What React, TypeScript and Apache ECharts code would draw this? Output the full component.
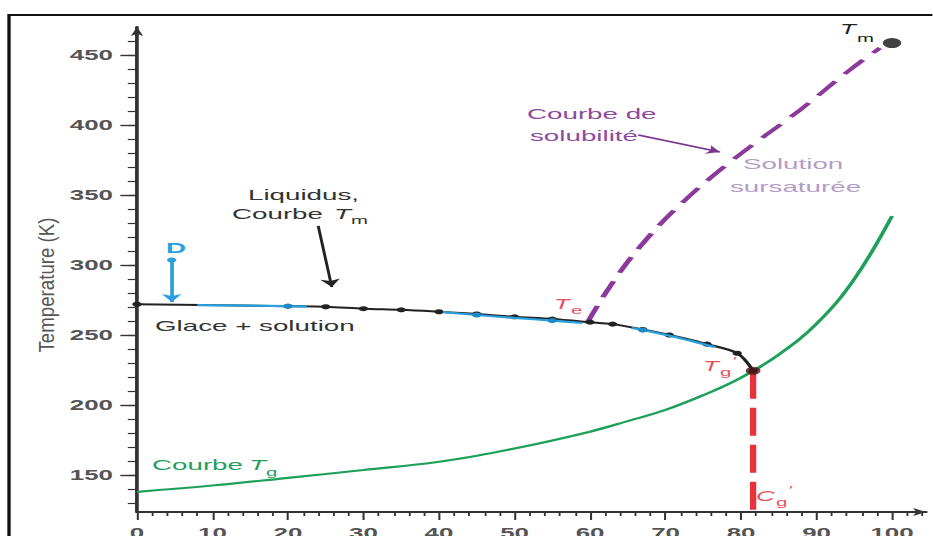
import React, { useEffect, useRef } from "react";
import * as echarts from "echarts";

// Horizontal stretch of the whole figure (the artwork is drawn narrow, then widened)
const S = 1.85;
const W = 933;
const H = 536;
const CW = W / S;
const u = (px: number) => px / S;
const FONT = '"Liberation Sans", Arial, sans-serif';

// Axes
const yMin = 123.6;
const yMax = 470;
const xMin = 0;
const xMax = 104.5;
const yMajorTicks = [150, 200, 250, 300, 350, 400, 450];
const yMinorTicks = [130, 140, 150, 160, 170, 180, 190, 200, 210, 220, 230, 240, 250, 260, 270, 280, 290, 300, 310, 320, 330, 340, 350, 360, 370, 380, 390, 400, 410, 420, 430, 440, 450, 460];
const xMajorTicks = [0, 10, 20, 30, 40, 50, 60, 70, 80, 90, 100];
const xMinorTicks = [2, 4, 6, 8, 12, 14, 16, 18, 22, 24, 26, 28, 32, 34, 36, 38, 42, 44, 46, 48, 52, 54, 56, 58, 62, 64, 66, 68, 72, 74, 76, 78, 82, 84, 86, 88, 92, 94, 96, 98, 102, 104];

// Liquidus (Courbe Tm) – black, with markers
const liquidusX = [0, 20, 25, 30, 35, 40, 45, 50, 55, 60, 63, 67, 70.5, 75.5, 79.5, 81.6];
const liquidusT = [272, 270.6, 270.2, 268.8, 268, 266.6, 265, 263, 261.4, 259.2, 257.8, 254, 250, 243.5, 237, 224.5];

// Measured liquidus points – blue segments (null = gap)
const blueX = [8, 15, 20, 22.5, 31, 40.5, 45, 50, 55, 59, 62, 65.5, 67, 71, 76.5];
const blueT = [271.3, 271, 270.6, 270.3, null, 266.4, 264.3, 262.2, 260.3, 258.6, null, 255, 253.6, 249, 241.5];
const blueMarked = [20, 45, 55, 67];

// Glass transition curve Tg – green
const tgX = [0, 10, 20, 30, 40, 50, 60, 65, 70, 75, 80, 85, 90, 95, 100];
const tgT = [138, 142.5, 148, 153.6, 159.5, 169, 181, 188.5, 196.5, 207, 219.5, 236, 258, 290, 335];

// Solubility curve – purple dashed
const solX = [59.7, 62.6, 66.6, 71.9, 78.9, 87.8, 94.4, 98.4];
const solT = [259.3, 284.3, 312.9, 342.9, 375, 410.7, 439.3, 455];

// Special points
const tmPoint = [100, 458.5];
const tgPrimePoint = [81.6, 224.5];
const cgPrime = 81.6;

// Point D: start temperature and arrow down to the liquidus
const dX = 4.6;
const dFrom = 303.6;
const dTo = 273.5;

// Annotation arrows [x1, y1, x2, y2]
const liquidusArrow = [24, 328, 25.8, 284.3];
const solubilityArrow = [66.4, 392.9, 77.2, 380.7];

type Lbl = { x: number; y: number; text: string; size?: number; color: string; italic?: boolean; bold?: boolean };

const RED = "#e8505a";
const labels: Lbl[] = [
  { x: 248, y: 195, text: "Liquidus,", color: "#333" },
  { x: 232, y: 214, text: "Courbe", color: "#333" },
  { x: 334, y: 214, text: "T", color: "#333", italic: true },
  { x: 351, y: 220, text: "m", color: "#333", size: 11 },
  { x: 166, y: 248, text: "D", color: "#29a0dd", bold: true },
  { x: 155, y: 326, text: "Glace + solution", color: "#333" },
  { x: 152, y: 465, text: "Courbe", color: "#1fa05a" },
  { x: 249, y: 465, text: "T", color: "#1fa05a", italic: true },
  { x: 266, y: 472, text: "g", color: "#1fa05a", size: 11 },
  { x: 527, y: 114, text: "Courbe de", color: "#8e4a9e" },
  { x: 530, y: 136, text: "solubilité", color: "#8e4a9e" },
  { x: 743, y: 164, text: "Solution", color: "#b49cc8" },
  { x: 730, y: 187, text: "sursaturée", color: "#b49cc8" },
  { x: 840, y: 29, text: "T", color: "#222", italic: true, size: 14 },
  { x: 857, y: 38, text: "m", color: "#222", size: 11 },
  { x: 554, y: 304, text: "T", color: RED, italic: true, size: 14 },
  { x: 571, y: 310, text: "e", color: RED, size: 11 },
  { x: 703, y: 366, text: "T", color: RED, italic: true, size: 14 },
  { x: 720, y: 372, text: "g", color: RED, size: 11 },
  { x: 733, y: 361, text: "\u2032", color: RED, size: 11 },
  { x: 756, y: 496, text: "C", color: RED, italic: true, size: 14 },
  { x: 776, y: 502, text: "g", color: RED, size: 11 },
  { x: 789, y: 490, text: "\u2032", color: RED, size: 11 },
];

const pairs = (xs: number[], ys: (number | null)[]) => xs.map((x, i) => [x, ys[i] === null ? "-" : ys[i]]);

function buildOption() {
  const axisColor = "#333";
  const graphics: any[] = [
    {
      type: "rect",
      silent: true,
      shape: { x: u(9), y: 15, width: 2000, height: 2000 },
      style: { fill: "none", stroke: "#111", lineWidth: 1.8 },
      z: 0,
    },
    {
      type: "text",
      silent: true,
      x: u(46),
      y: 285,
      rotation: Math.PI / 2,
      scaleY: 0.65,
      style: {
        text: "Temperature (K)",
        fontSize: 18.7,
        fontFamily: FONT,
        fill: "#555",
        align: "center",
        verticalAlign: "middle",
      },
    },
    ...labels.map((l) => ({
      type: "text",
      silent: true,
      x: u(l.x),
      y: l.y,
      z: 10,
      style: {
        text: l.text,
        fontSize: l.size ?? 15,
        fontFamily: FONT,
        fontStyle: l.italic ? "italic" : "normal",
        fontWeight: l.bold ? "bold" : "normal",
        fill: l.color,
        align: "left",
        verticalAlign: "middle",
      },
    })),
  ];

  const tickLabel = {
    show: true,
    color: "#555",
    fontSize: 14,
    fontWeight: "bold",
    fontFamily: FONT,
  };

  return {
    animation: false,
    backgroundColor: "#fff",
    grid: {
      left: u(137),
      right: CW - u(926),
      top: 27,
      bottom: H - 512,
      containLabel: false,
      outerBoundsMode: "none",
    },
    xAxis: [
      {
        type: "value",
        min: xMin,
        max: xMax,
        position: "bottom",
        axisLine: {
          show: true,
          onZero: false,
          lineStyle: { color: axisColor, width: 2 },
          symbol: ["none", "arrow"],
          symbolSize: [6, 7],
        },
        axisTick: { show: true, length: 8, customValues: xMajorTicks, lineStyle: { color: axisColor, width: 1.1 } },
        axisLabel: { ...tickLabel, customValues: xMajorTicks, margin: 14 },
        splitLine: { show: false },
      },
      {
        type: "value",
        min: xMin,
        max: xMax,
        position: "bottom",
        axisLine: { show: false, onZero: false },
        axisTick: { show: true, length: 4, customValues: xMinorTicks, lineStyle: { color: axisColor, width: 1 } },
        axisLabel: { show: false },
        splitLine: { show: false },
      },
    ],
    yAxis: [
      {
        type: "value",
        min: yMin,
        max: yMax,
        position: "left",
        axisLine: {
          show: true,
          onZero: false,
          lineStyle: { color: axisColor, width: 2 },
          symbol: ["none", "arrow"],
          symbolSize: [5, 9],
        },
        axisTick: { show: true, length: 9, customValues: yMajorTicks, lineStyle: { color: axisColor, width: 1.4 } },
        axisLabel: { ...tickLabel, customValues: yMajorTicks, margin: 13 },
        splitLine: { show: false },
      },
      {
        type: "value",
        min: yMin,
        max: yMax,
        position: "left",
        offset: 0,
        axisLine: { show: false, onZero: false },
        axisTick: { show: true, length: 5, customValues: yMinorTicks, lineStyle: { color: axisColor, width: 1.2 } },
        axisLabel: { show: false },
        splitLine: { show: false },
      },
    ],
    graphic: graphics,
    series: [
      {
        name: "Tg",
        type: "line",
        smooth: 0.4,
        showSymbol: false,
        data: pairs(tgX, tgT),
        lineStyle: { color: "#1fa05a", width: 2.2 },
        z: 2,
      },
      {
        name: "Solubilité",
        type: "line",
        smooth: 0.4,
        showSymbol: false,
        data: pairs(solX, solT),
        lineStyle: { color: "#8b3a9c", width: 3, type: [17, 9] },
        z: 2,
      },
      {
        name: "Cg'",
        type: "line",
        showSymbol: false,
        data: [
          [cgPrime, tgPrimePoint[1]],
          [cgPrime, yMin],
        ],
        lineStyle: { color: "#e8333c", width: 3.4, type: [28, 9] },
        z: 3,
      },
      {
        name: "Liquidus",
        type: "line",
        smooth: 0.3,
        symbol: "circle",
        symbolSize: 5,
        showAllSymbol: true,
        data: pairs(liquidusX, liquidusT),
        lineStyle: { color: "#222", width: 2 },
        itemStyle: { color: "#222" },
        z: 4,
      },
      {
        name: "Mesures",
        type: "line",
        smooth: 0.3,
        connectNulls: false,
        data: blueX.map((x, i) => ({
          value: [x, blueT[i] === null ? "-" : blueT[i]],
          symbol: blueMarked.includes(x) ? "circle" : "none",
        })),
        symbolSize: 5,
        showAllSymbol: true,
        lineStyle: { color: "#29a0dd", width: 2.2 },
        itemStyle: { color: "#1c8cc8" },
        z: 5,
      },
      {
        name: "Points",
        type: "scatter",
        data: [
          { value: tmPoint, symbolSize: 10, itemStyle: { color: "#111" } },
          { value: tgPrimePoint, symbolSize: 8, itemStyle: { color: "#4a1515" } },
        ],
        z: 6,
      },
      {
        name: "D",
        type: "lines",
        coordinateSystem: "cartesian2d",
        symbol: ["circle", "arrow"],
        symbolSize: [5, 8],
        data: [{ coords: [[dX, dFrom], [dX, dTo]] }],
        lineStyle: { color: "#29a0dd", width: 2, opacity: 1 },
        z: 6,
      },
      {
        name: "Flèche liquidus",
        type: "lines",
        coordinateSystem: "cartesian2d",
        symbol: ["none", "arrow"],
        symbolSize: 8,
        data: [
          {
            coords: [
              [liquidusArrow[0], liquidusArrow[1]],
              [liquidusArrow[2], liquidusArrow[3]],
            ],
          },
        ],
        lineStyle: { color: "#222", width: 1.6, opacity: 1 },
        z: 6,
      },
      {
        name: "Flèche solubilité",
        type: "lines",
        coordinateSystem: "cartesian2d",
        symbol: ["none", "arrow"],
        symbolSize: 7,
        data: [
          {
            coords: [
              [solubilityArrow[0], solubilityArrow[1]],
              [solubilityArrow[2], solubilityArrow[3]],
            ],
          },
        ],
        lineStyle: { color: "#7b3590", width: 1.6, opacity: 1 },
        z: 6,
      },
    ],
  };
}

export default function App() {
  const ref = useRef<HTMLDivElement>(null);
  useEffect(() => {
    document.body.style.margin = "0";
    if (!ref.current) return;
    const chart = echarts.init(ref.current, null, { renderer: "svg", width: CW, height: H });
    chart.setOption(buildOption() as any);
    return () => chart.dispose();
  }, []);
  return (
    <div style={{ width: W, height: H, overflow: "hidden", background: "#fff", position: "relative" }}>
      <div
        ref={ref}
        style={{
          width: CW,
          height: H,
          transform: `scaleX(${S})`,
          transformOrigin: "0 0",
        }}
      />
    </div>
  );
}
